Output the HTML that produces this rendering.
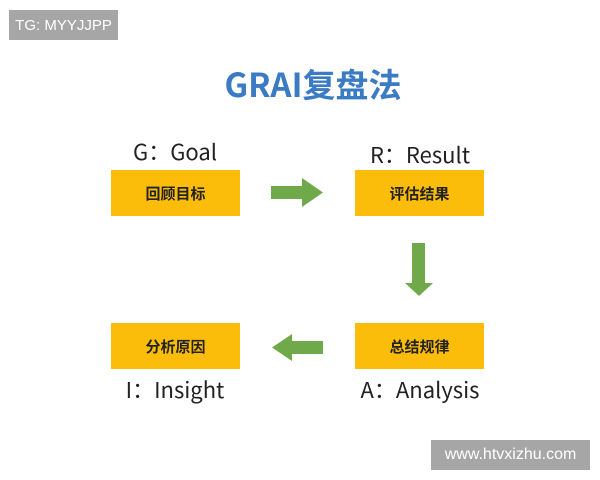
<!DOCTYPE html>
<html><head><meta charset="utf-8"><style>
body{margin:0;width:600px;height:480px;background:#fff;position:relative;overflow:hidden;font-family:"Liberation Sans","Noto Sans CJK SC",sans-serif}
.a{position:absolute}
.badge{background:#a6a6a6;color:#fff;font-size:15px;display:flex;align-items:center;justify-content:center}
.box{background:#fbbd0a;color:#222;font-size:15px;font-weight:bold;display:flex;align-items:center;justify-content:center;width:129px;height:46px;font-family:"Noto Sans CJK SC",sans-serif}
.lbl{font-size:22px;color:#222;text-align:center;width:200px;font-family:"Noto Sans CJK SC",sans-serif;line-height:28px}
</style></head><body>
<div class="a badge" style="left:9px;top:10px;width:109px;height:30px">TG: MYYJJPP</div>
<div class="a badge" style="left:431px;top:440px;width:159px;height:30px;font-size:16px">www.htvxizhu.com</div>
<div class="a" style="left:113px;top:62px;width:400px;text-align:center;color:#3a7bc4;font-size:33px;font-weight:bold;font-family:'Noto Sans CJK SC',sans-serif;line-height:42px">GRAI复盘法</div>
<div class="a lbl" style="left:75px;top:137px">G：Goal</div>
<div class="a lbl" style="left:320px;top:140px">R：Result</div>
<div class="a lbl" style="left:75px;top:375px">I：Insight</div>
<div class="a lbl" style="left:320px;top:375px">A：Analysis</div>
<div class="a box" style="left:111px;top:170px">回顾目标</div>
<div class="a box" style="left:355px;top:170px">评估结果</div>
<div class="a box" style="left:111px;top:323px">分析原因</div>
<div class="a box" style="left:355px;top:323px">总结规律</div>
<svg class="a" style="left:0;top:0" width="600" height="480">
<polygon fill="#6fa94a" points="271,186 302,186 302,178 323,192.5 302,207 302,199 271,199"/>
<polygon fill="#6fa94a" points="412,243 425,243 425,283 433,283 419,296 405,283 412,283"/>
<polygon fill="#6fa94a" points="323,341 292,341 292,334 272,347.5 292,361 292,354 323,354"/>
</svg>
</body></html>
